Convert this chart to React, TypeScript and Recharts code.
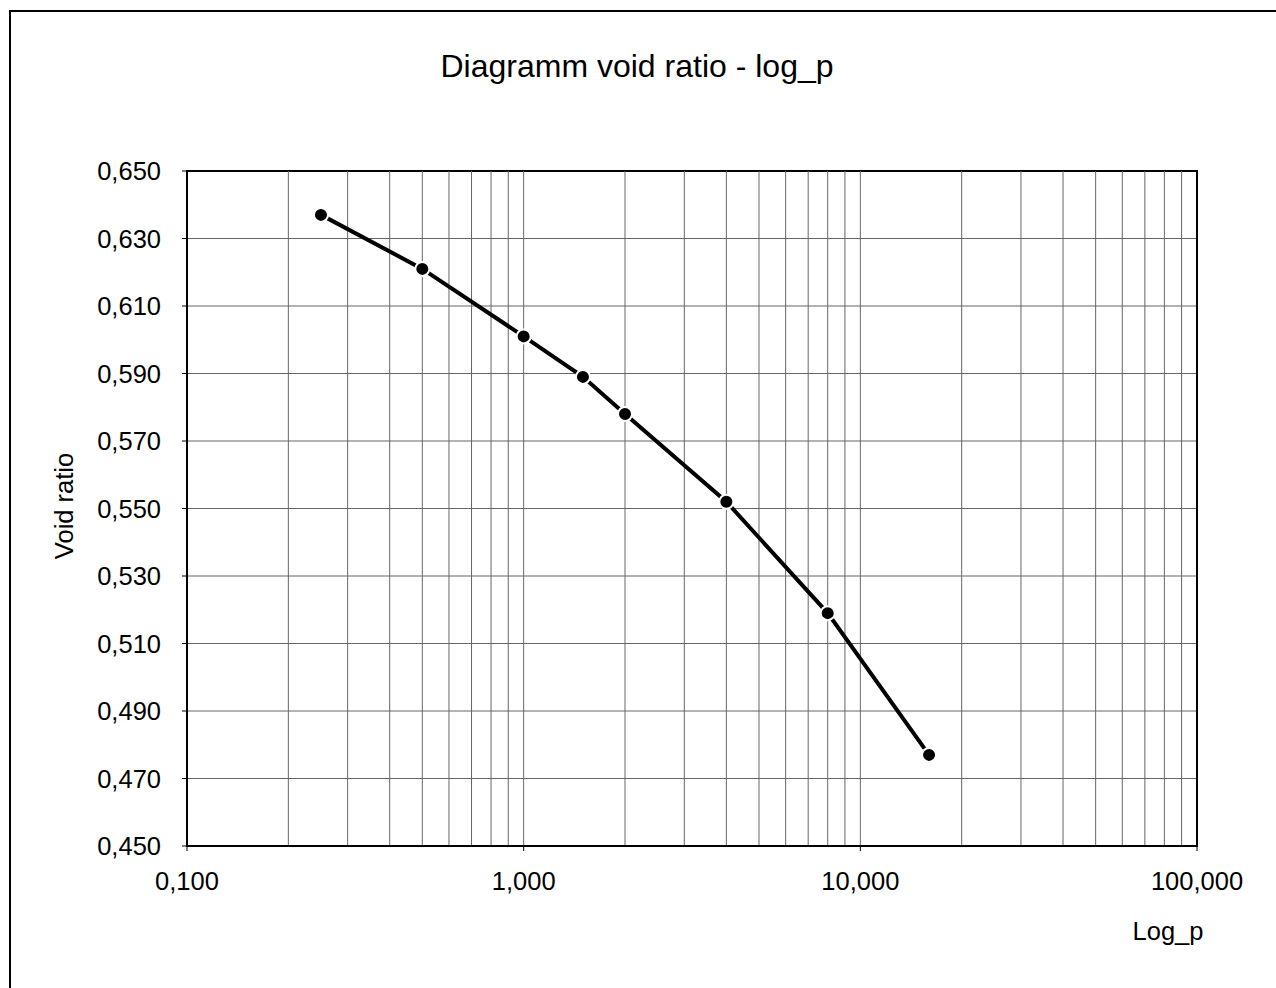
import { LineChart, Line, XAxis, YAxis, CartesianGrid, ReferenceLine, ReferenceArea } from "recharts";

const pressure = [0.25, 0.5, 1, 1.5, 2, 4, 8, 16];
const voidRatio = [0.637, 0.621, 0.601, 0.589, 0.578, 0.552, 0.519, 0.477];

const xTicks = [0.1, 1, 10, 100];
const yTicks = [0.45, 0.47, 0.49, 0.51, 0.53, 0.55, 0.57, 0.59, 0.61, 0.63, 0.65];
const xGrid = [
  0.2, 0.3, 0.4, 0.5, 0.6, 0.7, 0.8, 0.9, 1,
  2, 3, 4, 5, 6, 7, 8, 9, 10,
  20, 30, 40, 50, 60, 70, 80, 90,
];

const data = pressure.map((p, i) => ({ p, e: voidRatio[i] }));

const font = '"Liberation Sans", Arial, sans-serif';
const fmt = (v: number) => v.toFixed(3).replace(".", ",");

export default function App() {
  return (
    <div style={{ position: "absolute", left: 0, top: 0, width: 1276, height: 988, overflow: "hidden", background: "#fff", fontFamily: font }}>
      <div
        style={{
          position: "absolute",
          left: 9,
          top: 10,
          width: 1400,
          height: 1100,
          borderTop: "2px solid #000",
          borderLeft: "2px solid #000",
        }}
      />
      <div style={{ position: "absolute", left: 0, top: 0 }}>
        <LineChart width={1276} height={988} data={data} margin={{ top: 171, right: 79, bottom: 82, left: 87 }}>
          <CartesianGrid vertical={false} stroke="#666" strokeWidth={1} />
          {xGrid.map((v) => (
            <ReferenceLine key={v} x={v} stroke="#666" strokeWidth={1} />
          ))}
          <XAxis
            dataKey="p"
            type="number"
            scale="log"
            domain={[0.1, 100]}
            ticks={xTicks}
            allowDataOverflow
            height={60}
            tickFormatter={fmt}
            tick={{ fill: "#000", fontSize: 25.5, fontFamily: font }}
            tickSize={5}
            tickMargin={21}
            tickLine={{ stroke: "#000" }}
            axisLine={{ stroke: "#000", strokeWidth: 2 }}
          />
          <YAxis
            dataKey="e"
            type="number"
            domain={[0.45, 0.65]}
            ticks={yTicks}
            allowDataOverflow
            width={100}
            tickFormatter={fmt}
            tick={{ fill: "#000", fontSize: 25.5, fontFamily: font }}
            tickSize={5}
            tickMargin={21}
            tickLine={{ stroke: "#000" }}
            axisLine={{ stroke: "#000", strokeWidth: 2 }}
          />
          <ReferenceArea x1={0.1} x2={100} y1={0.45} y2={0.65} fill="none" fillOpacity={0} stroke="#000" strokeWidth={2} />
          <Line
            dataKey="e"
            type="linear"
            stroke="#000"
            strokeWidth={4}
            dot={{ r: 7, fill: "#000", stroke: "#fff", strokeWidth: 2 }}
            isAnimationActive={false}
          />
        </LineChart>
      </div>
      <svg width={1276} height={988} style={{ position: "absolute", left: 0, top: 0, pointerEvents: "none" }}>
        <text x={637} y={77} textAnchor="middle" fontSize={32} fontFamily={font} fill="#000">
          Diagramm void ratio - log_p
        </text>
        <text x={1168} y={940} textAnchor="middle" fontSize={25.5} fontFamily={font} fill="#000">
          Log_p
        </text>
        <text transform="translate(73,506) rotate(-90)" textAnchor="middle" fontSize={25.5} fontFamily={font} fill="#000">
          Void ratio
        </text>
      </svg>
    </div>
  );
}
